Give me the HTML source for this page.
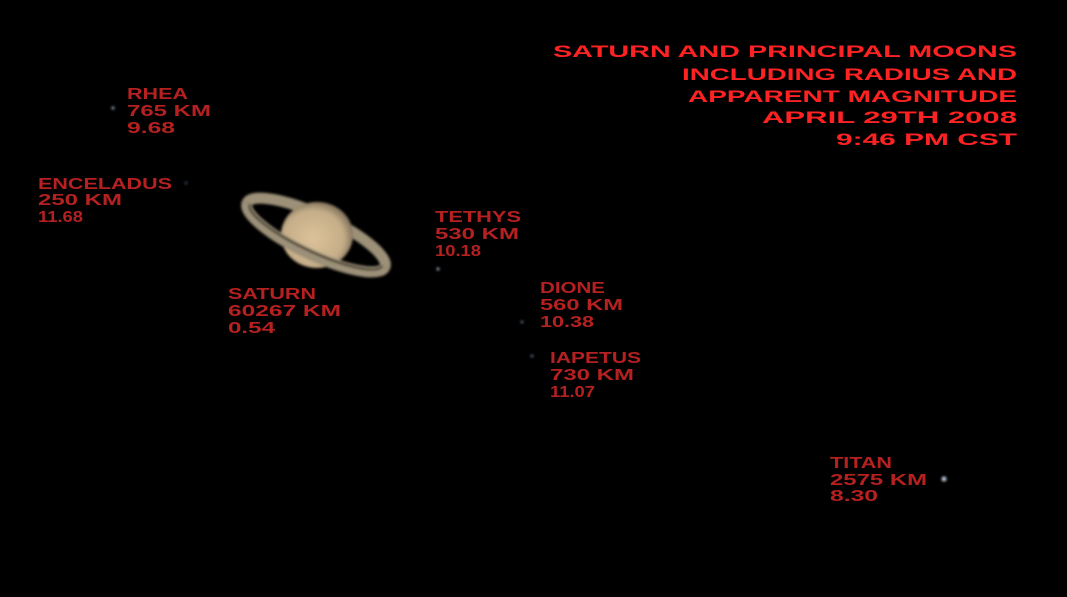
<!DOCTYPE html>
<html><head><style>html,body{margin:0;padding:0;background:#000;}svg{display:block}</style></head>
<body>
<svg width="1067" height="597" xmlns="http://www.w3.org/2000/svg">
<defs>
<radialGradient id="g" cx="0.45" cy="0.55" r="0.6">
<stop offset="0" stop-color="#dcc29a"/><stop offset="0.7" stop-color="#c4ad88"/><stop offset="1" stop-color="#6f6250"/>
</radialGradient>
<filter id="b"><feGaussianBlur stdDeviation="1.3"/></filter>
</defs>
<rect width="1067" height="597" fill="#000"/>
<g filter="url(#b)">
<g transform="translate(316,235) rotate(25)">
<path d="M-76,0 A76,20 0 0 1 76,0" fill="none" stroke="#9c9078" stroke-width="11"/>
</g>
<ellipse cx="317" cy="235" rx="36" ry="33" fill="url(#g)"/>
<g transform="translate(316,235) rotate(25)">
<path d="M-76,0 A76,20 0 0 0 76,0" fill="none" stroke="#9c9078" stroke-width="11"/>
<path d="M-73,0 A73,17 0 0 0 73,0" fill="none" stroke="#2a2418" stroke-width="2"/>
</g>
</g>
<g fill="#9ab" filter="url(#b)">
<circle cx="113" cy="108" r="1.5"/><circle cx="186" cy="183" r="1.5" fill="#345"/>
<circle cx="438" cy="269" r="1.5"/><circle cx="522" cy="322" r="1.5" fill="#567"/>
<circle cx="532" cy="356" r="1.5" fill="#567"/><circle cx="944" cy="479" r="2.5" fill="#bcd"/>
</g>
<g font-family="Liberation Sans, sans-serif" font-size="17" font-weight="bold" fill="#ff2222">
<text x="553" y="57" textLength="464" lengthAdjust="spacingAndGlyphs">SATURN AND PRINCIPAL MOONS</text>
<text x="682" y="80" textLength="335" lengthAdjust="spacingAndGlyphs">INCLUDING RADIUS AND</text>
<text x="688" y="102" textLength="329" lengthAdjust="spacingAndGlyphs">APPARENT MAGNITUDE</text>
<text x="762" y="123" textLength="255" lengthAdjust="spacingAndGlyphs">APRIL 29TH 2008</text>
<text x="836" y="145" textLength="181" lengthAdjust="spacingAndGlyphs">9:46 PM CST</text>
</g>
<g font-family="Liberation Sans, sans-serif" font-size="16" font-weight="bold" fill="#b52020">
<text x="127" y="99" textLength="61" lengthAdjust="spacingAndGlyphs">RHEA</text>
<text x="127" y="116" textLength="84" lengthAdjust="spacingAndGlyphs">765 KM</text>
<text x="127" y="133" textLength="48" lengthAdjust="spacingAndGlyphs">9.68</text>
<text x="38" y="189" textLength="134" lengthAdjust="spacingAndGlyphs">ENCELADUS</text>
<text x="38" y="205" textLength="84" lengthAdjust="spacingAndGlyphs">250 KM</text>
<text x="38" y="222" textLength="45" lengthAdjust="spacingAndGlyphs">11.68</text>
<text x="435" y="222" textLength="86" lengthAdjust="spacingAndGlyphs">TETHYS</text>
<text x="435" y="239" textLength="84" lengthAdjust="spacingAndGlyphs">530 KM</text>
<text x="435" y="256" textLength="46" lengthAdjust="spacingAndGlyphs">10.18</text>
<text x="228" y="299" textLength="88" lengthAdjust="spacingAndGlyphs">SATURN</text>
<text x="228" y="316" textLength="113" lengthAdjust="spacingAndGlyphs">60267 KM</text>
<text x="228" y="333" textLength="47" lengthAdjust="spacingAndGlyphs">0.54</text>
<text x="540" y="293" textLength="65" lengthAdjust="spacingAndGlyphs">DIONE</text>
<text x="540" y="310" textLength="83" lengthAdjust="spacingAndGlyphs">560 KM</text>
<text x="540" y="327" textLength="54" lengthAdjust="spacingAndGlyphs">10.38</text>
<text x="550" y="363" textLength="91" lengthAdjust="spacingAndGlyphs">IAPETUS</text>
<text x="550" y="380" textLength="84" lengthAdjust="spacingAndGlyphs">730 KM</text>
<text x="550" y="397" textLength="45" lengthAdjust="spacingAndGlyphs">11.07</text>
<text x="830" y="468" textLength="62" lengthAdjust="spacingAndGlyphs">TITAN</text>
<text x="830" y="485" textLength="97" lengthAdjust="spacingAndGlyphs">2575 KM</text>
<text x="830" y="501" textLength="48" lengthAdjust="spacingAndGlyphs">8.30</text>
</g>
</svg>
</body></html>
